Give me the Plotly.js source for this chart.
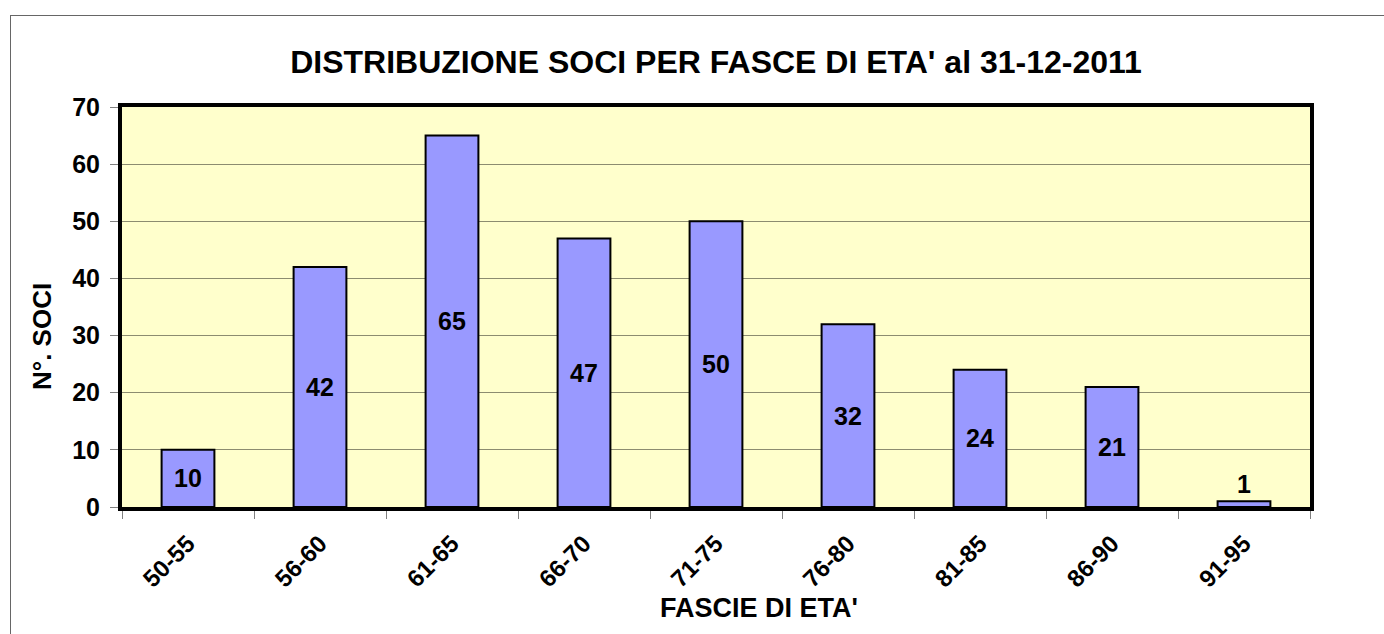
<!DOCTYPE html>
<html>
<head>
<meta charset="utf-8">
<script src="https://cdn.plot.ly/plotly-3.0.1.min.js"></script>
<style>
html,body{margin:0;padding:0;background:#fff;}
#frame{position:absolute;left:10px;top:15px;width:1380px;height:630px;border-left:1.5px solid #666;border-top:1.5px solid #666;pointer-events:none;z-index:5;}
#chart{position:absolute;left:0;top:0;width:1384px;height:634px;}
</style>
</head>
<body>
<div id="chart"></div>
<div id="frame"></div>
<script>
const categories = ['50-55','56-60','61-65','66-70','71-75','76-80','81-85','86-90','91-95'];
const soci = [10, 42, 65, 47, 50, 32, 24, 21, 1];
const yTicks = [0,10,20,30,40,50,60,70];
const titleText = "DISTRIBUZIONE SOCI PER FASCE DI ETA' al 31-12-2011";
const xTitleText = "FASCIE DI ETA'";
const yTitleText = 'N°. SOCI';

const font = 'Liberation Sans, Arial, sans-serif';

Plotly.newPlot('chart', [{
  type: 'bar',
  x: categories,
  y: soci,
  text: soci.map(String),
  textposition: 'auto',
  insidetextanchor: 'middle',
  textangle: 0,
  cliponaxis: false,
  textfont: {family: font, size: 25, color: '#000', weight: 'bold'},
  marker: {color: '#9999FF', line: {color: '#000', width: 2}},
  width: 0.4,
  hoverinfo: 'none'
}], {
  width: 1384, height: 634,
  margin: {l: 122, r: 74, t: 107, b: 127},
  paper_bgcolor: '#fff',
  plot_bgcolor: '#FFFFCC',
  showlegend: false,
  title: {text: titleText,
          font: {family: font, size: 32, color: '#000', weight: 'bold'},
          x: 0.5, xref: 'paper', y: 0.902, yref: 'container', yanchor: 'middle'},
  annotations: [
    {text: xTitleText, xref: 'paper', yref: 'paper', x: 0.536, y: -0.2525,
     xanchor: 'center', yanchor: 'middle', showarrow: false,
     font: {family: font, size: 27, color: '#000', weight: 'bold'}},
    {text: yTitleText, xref: 'paper', yref: 'paper', x: -0.0673, y: 0.425,
     xanchor: 'center', yanchor: 'middle', showarrow: false, textangle: -90,
     font: {family: font, size: 26, color: '#000', weight: 'bold'}}
  ],
  xaxis: {
    type: 'category',
    tickangle: -45,
    tickfont: {family: font, size: 24, color: '#000', weight: 'bold'},
    ticklabelstandoff: 9,
    tickson: 'boundaries',
    ticks: 'outside', ticklen: 8, tickcolor: '#808080', tickwidth: 1,
    showline: true, linecolor: '#000', linewidth: 4, mirror: true,
    showgrid: false, zeroline: false, fixedrange: true, automargin: false
  },
  yaxis: {
    range: [0, 70],
    tickvals: yTicks,
    ticktext: yTicks.map(String),
    tickfont: {family: font, size: 25, color: '#000', weight: 'bold'},
    ticklabelstandoff: 5,
    ticks: 'outside', ticklen: 8, tickcolor: '#808080', tickwidth: 1,
    showline: true, linecolor: '#000', linewidth: 4, mirror: true,
    showgrid: true, gridcolor: '#8C8C70', gridwidth: 1,
    zeroline: false, fixedrange: true, automargin: false
  }
}, {displayModeBar: false, staticPlot: true}).then(function(){
  document.querySelectorAll('.xtick text, .ytick text, .bartext').forEach(function(t){ t.getBoundingClientRect(); });
});
</script>
</body>
</html>
